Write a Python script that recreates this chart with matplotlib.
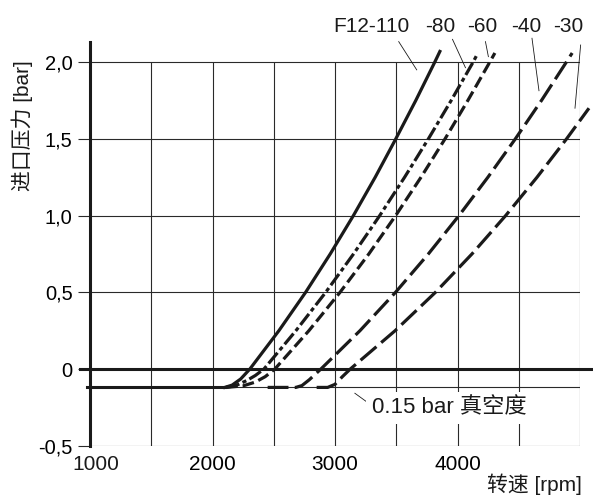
import matplotlib
matplotlib.use("Agg")
import matplotlib.pyplot as plt

plt.rcParams['font.family'] = ['Liberation Sans', 'Noto Sans CJK SC']
plt.rcParams['lines.scale_dashes'] = False

# inlet pressure [bar] vs. speed [rpm] per pump size
rpm_110 = [2100, 2160, 2230, 2305, 2542, 2760, 2961, 3150, 3328, 3496, 3659, 3814, 3856]
p_110 = [-0.12, -0.105, -0.065, 0.0, 0.25, 0.5, 0.75, 1.0, 1.25, 1.5, 1.75, 2.0, 2.07]

rpm_80 = [2110, 2190, 2280, 2350, 2420, 2681, 2924, 3151, 3365, 3568, 3762, 3948, 4127, 4160]
p_80 = [-0.12, -0.108, -0.075, -0.042, 0.0, 0.25, 0.5, 0.75, 1.0, 1.25, 1.5, 1.75, 2.0, 2.05]

rpm_60 = [2110, 2250, 2350, 2430, 2509, 2787, 3041, 3276, 3495, 3702, 3898, 4084, 4263, 4305]
p_60 = [-0.12, -0.11, -0.085, -0.05, 0.0, 0.25, 0.5, 0.75, 1.0, 1.25, 1.5, 1.75, 2.0, 2.06]

rpm_40 = [2450, 2680, 2730, 2790, 2885, 3204, 3494, 3762, 4012, 4248, 4472, 4685, 4888, 4936]
p_40 = [-0.12, -0.12, -0.108, -0.07, 0.0, 0.25, 0.5, 0.75, 1.0, 1.25, 1.5, 1.75, 2.0, 2.06]

rpm_30 = [2850, 2940, 3000, 3060, 3125, 3491, 3820, 4118, 4393, 4649, 4890, 5073]
p_30 = [-0.12, -0.12, -0.1, -0.05, 0.0, 0.25, 0.5, 0.75, 1.0, 1.25, 1.5, 1.70]

vacuum = -0.12
names = ['F12-110', '-80', '-60', '-40', '-30']
name_x = [3300, 3855, 4206, 4565, 4907]

fig = plt.figure(figsize=(5.93, 4.97), dpi=100)
ax = fig.add_axes([0.1518, 0.1032, 0.8263, 0.8118])
ax.set_xlim(1000, 5000)
ax.set_ylim(-0.5, 2.13)

for s in ['top', 'right', 'bottom']:
    ax.spines[s].set_visible(False)
ax.spines['left'].set_linewidth(2.2)
ax.spines['left'].set_color('#1a1a1a')

# grid
gc = '#2a2a2a'
ax.vlines([1500, 2000, 2500, 3000, 3500, 4000, 4500, 5000], -0.5, 2.0,
          color=gc, lw=0.8, zorder=1)
ax.hlines([-0.5, 0.5, 1.0, 1.5, 2.0], 1000, 5000, color=gc, lw=0.8, zorder=1)
ax.hlines(vacuum, 1000, 5000, color=gc, lw=0.8, zorder=1)
ax.plot([918, 5110], [0, 0], color='#1a1a1a', lw=2.2, clip_on=False, zorder=2)
ax.plot([975, rpm_110[0]], [vacuum, vacuum], color='#1a1a1a', lw=2.2,
        clip_on=False, zorder=3)

ax.set_yticks([-0.5, 0, 0.5, 1.0, 1.5, 2.0])
ax.set_yticklabels(['-0,5', '0', '0,5', '1,0', '1,5', '2,0'])
ax.set_xticks([2000, 3000, 4000])
ax.set_xticklabels(['2000', '3000', '4000'])
ax.tick_params(axis='y', length=9, width=0.8, color=gc, pad=3.5, labelsize=14.5)
ax.tick_params(axis='x', length=0, pad=7, labelsize=15)
# first rpm label sits a little right of the axis line
ax.text(1050, -0.563, '1000', ha='center', va='top', fontsize=15,
        color='#1a1a1a', clip_on=False)

lk = dict(color='#1a1a1a', lw=2.3, clip_on=False, zorder=4)
ax.plot(rpm_110, p_110, ls='-', **lk)
ax.plot(rpm_80, p_80, ls=(0, (10, 2.5, 3, 2.5)), **lk)
ax.plot(rpm_60, p_60, ls=(0, (8.5, 3.5)), **lk)
ax.plot(rpm_40, p_40, ls=(0, (15, 4.5)), **lk)
ax.plot(rpm_30, p_30, ls=(0, (15, 4.5)), **lk)

for n, x in zip(names, name_x):
    ax.text(x, 2.23, n, ha='center', va='center', fontsize=15, color='#1a1a1a')

leaders = [((3520, 3667), (2.134, 1.95)),
           ((3959, 4065), (2.149, 1.964)),
           ((4228, 4252), (2.134, 2.036)),
           ((4608, 4665), (2.156, 1.814)),
           ((5005, 4959), (2.112, 1.70))]
for xs, ys in leaders:
    ax.plot(xs, ys, color='#1a1a1a', lw=0.6, clip_on=False, zorder=5)

ax.plot([3162, 3257], [-0.158, -0.213], color='#1a1a1a', lw=0.6, zorder=5)
ax.text(3298, -0.254, '0.15 bar 真空度', ha='left', va='center', fontsize=16,
        color='#1a1a1a', zorder=6,
        bbox=dict(fc='white', ec='none', pad=4))

fig.text(0.981, 0.026, '转速 [rpm]', ha='right', va='center', fontsize=15,
         color='#1a1a1a')
fig.text(0.037, 0.748, '进口压力 [bar]', ha='center', va='center', fontsize=15,
         rotation=90, color='#1a1a1a')

fig.savefig('out.png', dpi=100)
